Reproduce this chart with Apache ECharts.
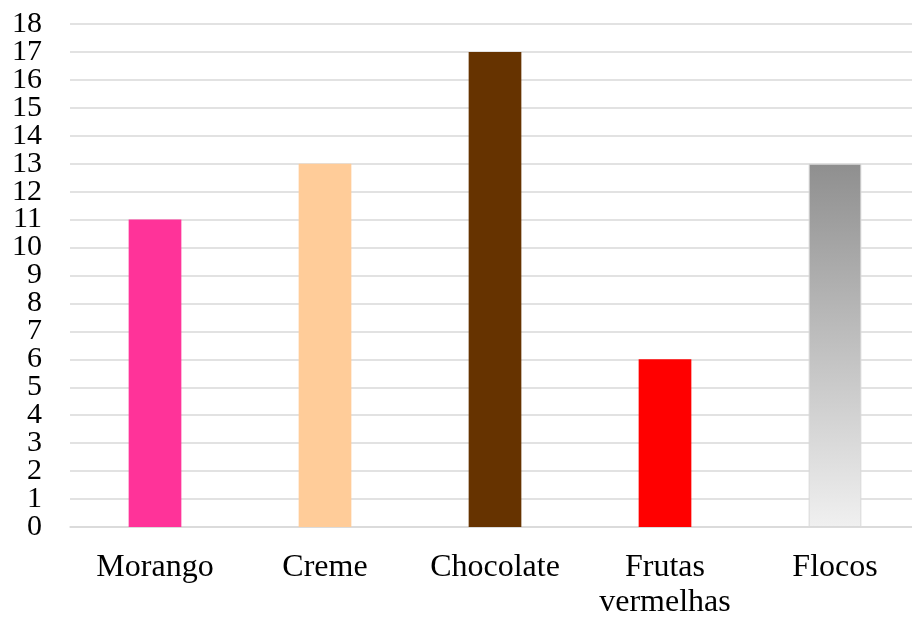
<!DOCTYPE html>
<html><head><meta charset="utf-8">
<script src="https://cdn.jsdelivr.net/npm/echarts@6/dist/echarts.min.js"></script>
<style>html,body{margin:0;padding:0;background:#fff;overflow:hidden}#c{width:920px;height:617px}</style>
</head><body><div id="c"></div>
<script>
const categories = ['Morango', 'Creme', 'Chocolate', 'Frutas\nvermelhas', 'Flocos'];
const values = [11, 13, 17, 6, 13];
const barColors = ['#FF3399', '#FFCC99', '#663300', '#FF0000', null];
const yMin = 0, yMax = 18, yStep = 1;

const chart = echarts.init(document.getElementById('c'));
const font = '"Liberation Serif", "Times New Roman", serif';
function yAxisDef(parity, showSplit) {
  return {
    type: 'value', min: yMin, max: yMax, interval: yStep, position: 'left',
    axisLine: { show: false }, axisTick: { show: false },
    splitLine: { show: showSplit, lineStyle: { color: '#d9d9d9', width: 1.5 } },
    axisLabel: { color: '#000', fontFamily: font, fontSize: 30, margin: 28,
      showMinLabel: true, showMaxLabel: true,
      formatter: v => (Math.round(v) % 2 === parity ? String(v) : '') }
  };
}
chart.setOption({
  animation: false,
  grid: { left: 70, right: 0, top: 24, bottom: 90, containLabel: false, outerBoundsMode: 'none' },
  xAxis: {
    type: 'category', data: categories,
    axisLine: { lineStyle: { color: '#d9d9d9', width: 1.5 } },
    axisTick: { show: false },
    axisLabel: { color: '#000', fontFamily: font, fontSize: 32, margin: 23, lineHeight: 35, interval: 0 }
  },
  yAxis: [yAxisDef(0, true), yAxisDef(1, false)],
  series: [{
    type: 'bar', barWidth: '31%', yAxisIndex: 0,
    data: values.map((v, i) => ({
      value: v,
      itemStyle: barColors[i] ? { color: barColors[i] } : {
        color: new echarts.graphic.LinearGradient(0, 0, 0, 1, [
          { offset: 0, color: '#8f8f8f' }, { offset: 1, color: '#f0f0f0' }
        ]),
        borderColor: '#d9d9d9', borderWidth: 1
      }
    }))
  }]
});
</script></body></html>
